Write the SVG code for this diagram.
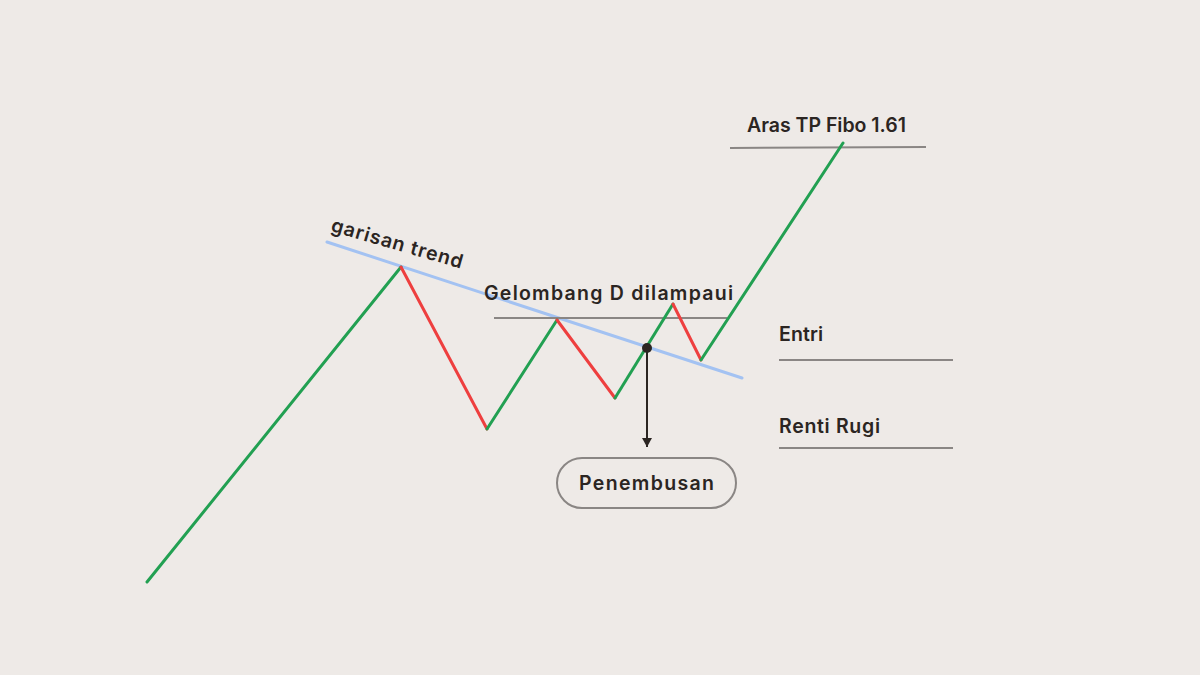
<svg xmlns="http://www.w3.org/2000/svg" width="1200" height="675" viewBox="0 0 1200 675">
<style>
.lbl{font-family:"Inter","Open Sans","Liberation Sans",sans-serif;font-weight:600;font-size:19.5px;fill:#2b2522}
.g{stroke:#22a052;stroke-width:3;fill:none;stroke-linecap:round}
.r{stroke:#ee3f3f;stroke-width:3;fill:none;stroke-linecap:round}
.lvl{stroke:#8a8684;stroke-width:2;fill:none}
</style>
<defs>
<marker id="ah" markerWidth="10" markerHeight="10" refX="9" refY="5" orient="auto" markerUnits="userSpaceOnUse" viewBox="0 0 10 10">
<path d="M0,0 L9,5 L0,10 Z" fill="#2b2522"/>
</marker>
</defs>
<rect width="1200" height="675" fill="#eeeae7"/>
<g id="connectors">
<line x1="327" y1="242" x2="742" y2="378" stroke="#a3c2f2" stroke-width="3" stroke-linecap="round"/>
<line class="lvl" x1="494" y1="318" x2="727" y2="318"/>
<line class="lvl" x1="730" y1="148" x2="926" y2="147"/>
<line class="lvl" x1="779" y1="360" x2="953" y2="360"/>
<line class="lvl" x1="779" y1="448" x2="953" y2="448"/>
<line class="g" x1="147" y1="582" x2="401" y2="267"/>
<line class="r" x1="401" y1="267" x2="487" y2="429"/>
<line class="g" x1="487" y1="429" x2="557" y2="320"/>
<line class="r" x1="557" y1="320" x2="615" y2="398"/>
<line class="g" x1="615" y1="398" x2="673" y2="304"/>
<line class="r" x1="673" y1="304" x2="701" y2="360"/>
<line class="g" x1="701" y1="360" x2="843" y2="143"/>
<line x1="647" y1="348" x2="647" y2="447" stroke="#2b2522" stroke-width="2" marker-end="url(#ah)"/>
<circle cx="647" cy="348" r="5" fill="#2b2522"/>
</g>
<g id="trend-label"><text class="lbl" transform="translate(330,231) rotate(16)" textLength="136">garisan trend</text></g>
<g id="wave-label"><text class="lbl" x="484" y="300" textLength="249">Gelombang D dilampaui</text></g>
<g id="tp-label"><text class="lbl" x="747" y="132" textLength="159">Aras TP Fibo 1.61</text></g>
<g id="entry-label"><text class="lbl" x="779" y="341" textLength="44">Entri</text></g>
<g id="sl-label"><text class="lbl" x="779" y="433" textLength="101">Renti Rugi</text></g>
<g id="breakout">
<rect x="557" y="458" width="179" height="50" rx="25" fill="none" stroke="#8a8684" stroke-width="2"/>
<text class="lbl" x="579" y="490" textLength="135">Penembusan</text>
</g>
</svg>
